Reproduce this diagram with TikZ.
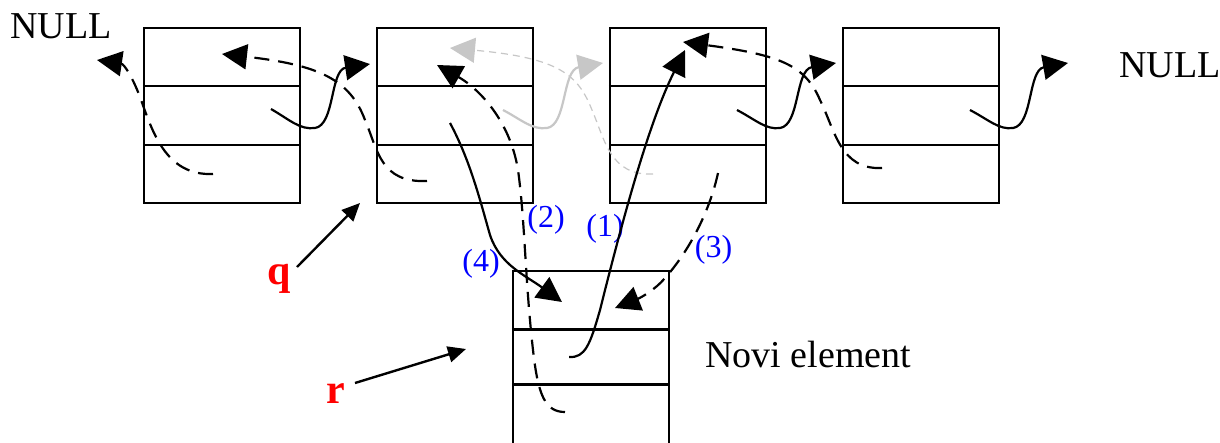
\documentclass[tikz,border=0pt]{standalone}
\usepackage{fontspec}
\setmainfont{Liberation Serif}
\usetikzlibrary{arrows.meta,calc}
\begin{document}
\begin{tikzpicture}[x=1pt,y=-1pt,
 cell/.style={draw,line width=2.5pt,minimum width=156pt,minimum height=175pt,inner sep=0pt},
 rowline/.style={line width=2.5pt},
 nxt/.style={line width=2.2pt,-{Triangle[length=25pt,width=25pt]}},
 prv/.style={nxt,dash pattern=on 15pt off 9pt},
 oldnxt/.style={line width=2.2pt,draw=black!22,-{Triangle[length=25pt,width=25pt,fill=black!22]}},
 oldprv/.style={line width=1.2pt,draw=black!22,dash pattern=on 7pt off 5pt,-{Triangle[length=25pt,width=25pt,fill=black!22]}},
 lbl/.style={font=\fontsize{38}{40}\selectfont,inner sep=0pt,anchor=base west},
 num/.style={font=\fontsize{32}{34}\selectfont,text=blue,inner sep=0pt,anchor=base},
 ptr/.style={font=\bfseries\fontsize{42}{44}\selectfont,text=red,inner sep=0pt,anchor=base},
 ptrarrow/.style={line width=2.4pt,-{Triangle[length=18pt,width=16pt]}}
]
\clip (0,0) rectangle (1220,442);
\fill[white] (0,0) rectangle (1220,442);

% list nodes
\node[cell] (b1) at (222,115.5) {};
\node[cell] (b2) at (455,115.5) {};
\node[cell] (b3) at (688,115.5) {};
\node[cell] (b4) at (921,115.5) {};
\node[cell,minimum height=176pt] (nb) at (591,359) {};
\foreach \b in {b1,b2,b3,b4}{
  \draw[rowline] ($(\b.north west)!0.333!(\b.south west)$) -- ($(\b.north east)!0.333!(\b.south east)$);
  \draw[rowline] ($(\b.north west)!0.667!(\b.south west)$) -- ($(\b.north east)!0.667!(\b.south east)$);
}
\draw[rowline] ($(nb.north west)!0.335!(nb.south west)$) -- ($(nb.north east)!0.335!(nb.south east)$);
\draw[rowline] ($(nb.north west)!0.642!(nb.south west)$) -- ($(nb.north east)!0.642!(nb.south east)$);

% texts
\node[lbl] (nullL) at (10,38) {NULL};
\node[lbl] (nullR) at (1119,77) {NULL};
\node[lbl] (novi) at (705,367) {Novi element};
\node[num] (l1) at (605,236) {(1)};
\node[num] (l2) at (546,227) {(2)};
\node[num] (l3) at (713.5,257) {(3)};
\node[num] (l4) at (481,271) {(4)};
\node[ptr] (q) at (279,284) {q};
\node[ptr] (r) at (335.5,403) {r};

% pointer arrows q, r
\coordinate (qs) at (297,267);
\coordinate (qt) at (360,203);
\coordinate (rs) at (355,383);
\coordinate (rt) at (466,349);
\draw[ptrarrow] (qs) -- (qt);
\draw[ptrarrow] (rs) -- (rt);

% link coordinates
\coordinate (p1s) at (213,174);
\coordinate (nl) at (97,60);
\coordinate (n1s) at (271,109);
\coordinate (b2top) at (370,64);
\coordinate (p2s) at (427,181);
\coordinate (b1top) at (222,54);
\coordinate (n2s) at (503,110);
\coordinate (b3topg) at (603,63);
\coordinate (p3s) at (653,174);
\coordinate (b2topg) at (450,48);
\coordinate (nps) at (565,412);
\coordinate (b2topb) at (437,65);
\coordinate (n2new) at (450,123);
\coordinate (nbtopa) at (562,302);
\coordinate (nns) at (569,357);
\coordinate (b3topa) at (685,50);
\coordinate (p3new) at (718,173);
\coordinate (nbtopb) at (615,308);
\coordinate (n3s) at (737,110);
\coordinate (b4top) at (836,63);
\coordinate (p4s) at (882,168);
\coordinate (b3topb) at (683,42);
\coordinate (n4s) at (970,110);
\coordinate (nr) at (1068,63);

% node 1
\draw[prv] (p1s) .. controls (165,176) and (152,130) .. (140,97) .. controls (132,76) and (124,64) .. (nl);
\draw[nxt] (n1s) .. controls (290,120) and (300,130) .. (315,128) .. controls (335,125) and (330,70) .. (b2top);
% node 2
\draw[prv] (p2s) .. controls (380,183) and (378,150) .. (365,120) .. controls (350,80) and (320,65) .. (b1top);
\draw[oldnxt] (n2s) .. controls (522,120) and (532,130) .. (547,128) .. controls (567,125) and (562,70) .. (b3topg);
% node 3 (old prev, gray)
\draw[oldprv] (p3s) .. controls (610,176) and (605,140) .. (592,110) .. controls (578,75) and (560,58) .. (b2topg);
% new element links
\draw[prv] (nps) .. controls (545,412) and (538,395) .. (533,350) .. controls (525,280) and (525,220) .. (518,170) .. controls (510,120) and (478,88) .. (b2topb);
\draw[nxt] (n2new) .. controls (470,160) and (480,200) .. (490,235) .. controls (500,265) and (525,275) .. (nbtopa);
\draw[nxt] (nns) .. controls (585,358) and (590,345) .. (600,310) .. controls (625,210) and (650,120) .. (b3topa);
\draw[prv] (p3new) .. controls (710,210) and (690,250) .. (665,278) .. controls (655,290) and (640,298) .. (nbtopb);
% node 3
\draw[nxt] (n3s) .. controls (756,120) and (766,130) .. (780,128) .. controls (800,125) and (795,70) .. (b4top);
% node 4
\draw[prv] (p4s) .. controls (840,170) and (835,130) .. (820,100) .. controls (805,65) and (780,55) .. (b3topb);
\draw[nxt] (n4s) .. controls (989,120) and (999,130) .. (1013,128) .. controls (1033,125) and (1028,70) .. (nr);
\end{tikzpicture}
\end{document}
